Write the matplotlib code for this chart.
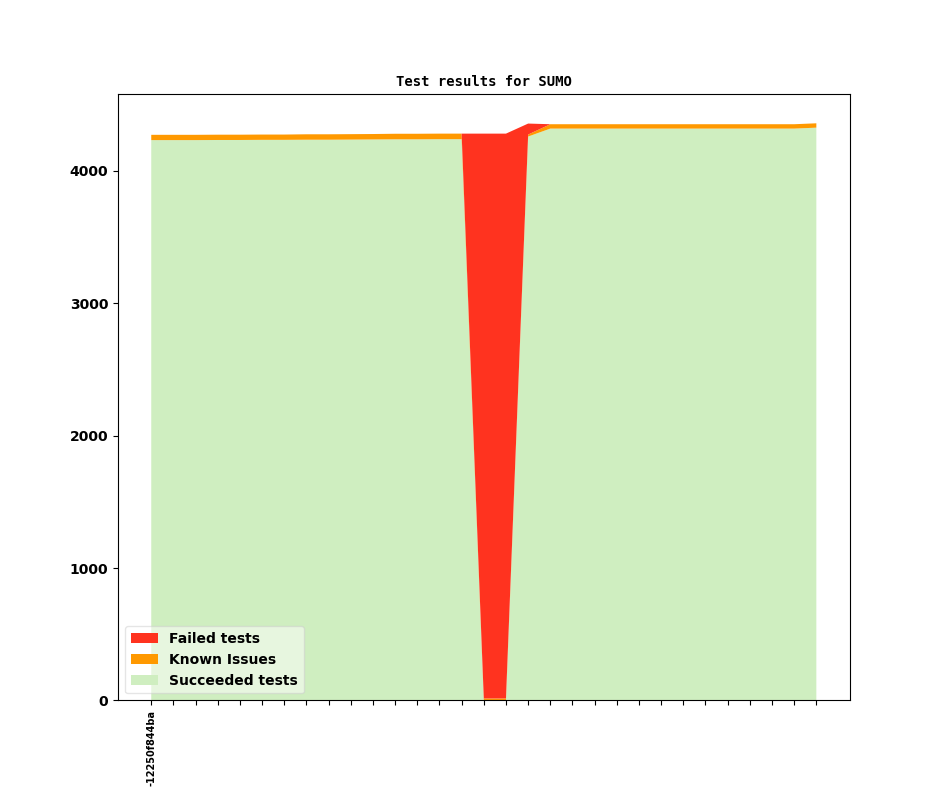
import matplotlib
matplotlib.use("Agg")
import matplotlib.pyplot as plt
import numpy as np

tick_labels = ["-12250f844ba"] + [""] * 30

succeeded = [4232, 4232, 4232, 4233, 4233, 4234, 4234, 4235, 4235, 4236,
             4237, 4238, 4238, 4239, 4239, 0, 0, 4259, 4319, 4319,
             4319, 4319, 4319, 4319, 4319, 4319, 4319, 4319, 4319, 4319, 4326]
known = [40, 40, 40, 40, 40, 40, 40, 41, 41, 41,
         41, 42, 42, 42, 42, 15, 15, 15, 33, 33,
         33, 33, 33, 33, 33, 33, 33, 33, 33, 33, 33]
failed = [0, 0, 0, 0, 0, 0, 0, 0, 0, 0,
          0, 0, 0, 0, 0, 4266, 4266, 83, 0, 0,
          0, 0, 0, 0, 0, 0, 0, 0, 0, 0, 0]

x = np.arange(len(succeeded))

fig = plt.figure(figsize=(9.44, 7.87), dpi=100)
ax = fig.add_subplot(111)
polys = ax.stackplot(x, succeeded, known, failed,
                     colors=["#cfeec0", "#ff9900", "#ff331f"],
                     labels=["Succeeded tests", "Known Issues", "Failed tests"])

ax.set_xticks(x)
ax.set_xticklabels(tick_labels, rotation=90, fontsize=7, fontweight="bold")
for lab in ax.get_yticklabels():
    lab.set_fontweight("bold")
ax.set_title("Test results for SUMO", fontsize=10, fontweight="bold",
             family="DejaVu Sans Mono")

handles, labels = ax.get_legend_handles_labels()
ax.legend(handles[::-1], labels[::-1], loc="lower left", framealpha=0.5,
          prop={"weight": "bold", "size": 10})

fig.savefig("out.png", dpi=100)
